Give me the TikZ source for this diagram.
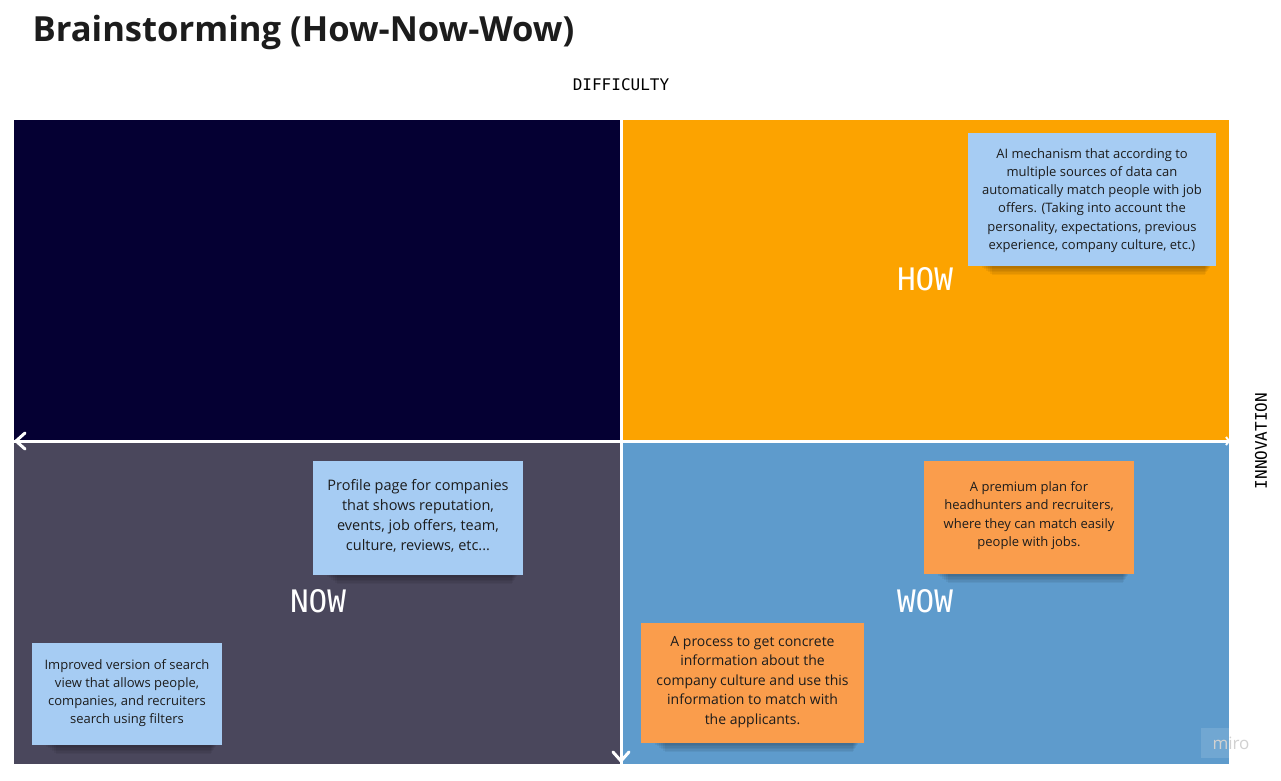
\documentclass[tikz,border=0pt]{standalone}
\usepackage{fontspec}
\setmainfont{Open Sans}
\newfontfamily\monof{DejaVu Sans Mono}
\definecolor{qnavy}{HTML}{050033}
\definecolor{qorange}{HTML}{FCA300}
\definecolor{qgray}{HTML}{4A475C}
\definecolor{qblue}{HTML}{5E9BCC}
\definecolor{noteblue}{HTML}{A6CCF3}
\definecolor{noteorange}{HTML}{FA9D4C}
\definecolor{txt}{HTML}{1C1C1C}
\tikzset{
  x=1pt,y=-1pt,
  note/.style={text=txt,font=\fontsize{13}{18.2}\selectfont,align=center,inner sep=0pt},
  qlabel/.style={text=white,font=\monof\fontsize{31}{31}\selectfont},
  axislabel/.style={text=black,font=\monof\fontsize{16}{16}\selectfont},
  axis/.style={white,line width=3pt},
  chevron/.style={white,line width=3pt,line cap=round,line join=miter},
}
\newcommand{\sticky}[6]{% x1 y1 x2 y2 color name
  \foreach \k in {0,...,5}{
    \fill[black,opacity=0.05] (#1+14+\k*2,#4-6) rectangle (#3-6-\k,#4+2+\k*1.4);
  }
  \fill[#5] (#1,#2) rectangle (#3,#4);
  \coordinate (#6) at ({(#1+#3)/2},{(#2+#4)/2});
}
\begin{document}
\begin{tikzpicture}
\useasboundingbox[fill=white] (0,0) rectangle (1281,780);
\node[anchor=west,font=\bfseries\fontsize{34.6}{34.6}\selectfont,text=txt] (title) at (29,33) {Brainstorming (How-Now-Wow)};
\node[axislabel] (diff) at (621,85) {DIFFICULTY};
\node[axislabel,rotate=90] (innov) at (1261,441) {INNOVATION};
% quadrants
\fill[qnavy] (14,120) rectangle (620,440);
\fill[qorange] (623,120) rectangle (1229,440);
\fill[qgray] (14,443) rectangle (620,764);
\fill[qblue] (623,443) rectangle (1229,764);
\coordinate (hl) at (16,441);
\coordinate (hr) at (1229,441);
\coordinate (vt) at (621,120);
\coordinate (vb) at (621,761);
\draw[axis] (hr) -- (hl);
\draw[axis] (vt) -- (vb);
\draw[chevron] ([shift={(9,-8)}]hl) -- (hl) -- ([shift={(9,8)}]hl);
\draw[chevron] ([shift={(-8,-9)}]vb) -- (vb) -- ([shift={(8,-9)}]vb);
\draw[white,line width=2pt] ([shift={(-3,-4)}]hr) -- (hr) -- ([shift={(-3,4)}]hr);
\node[qlabel] (how) at (925,279) {HOW};
\node[qlabel] (now) at (318,601) {NOW};
\node[qlabel] (wow) at (925,601) {WOW};
% notes
\sticky{968}{133}{1216}{266}{noteblue}{n1}
\node[note] (t1) at ([yshift=-1pt]n1) {AI mechanism that according to\\multiple sources of data can\\automatically match people with job\\offers. (Taking into account the\\personality, expectations, previous\\experience, company culture, etc.)};
\sticky{313}{461}{523}{575}{noteblue}{n2}
\node[note,font=\fontsize{14.5}{20.2}\selectfont] (t2) at ([yshift=2pt]n2) {Profile page for companies\\that shows reputation,\\events, job offers, team,\\culture, reviews, etc...};
\sticky{32}{643}{222}{745}{noteblue}{n3}
\node[note] (t3) at ([yshift=1pt]n3) {Improved version of search\\view that allows people,\\companies, and recruiters\\search using filters};
\sticky{924}{461}{1134}{574}{noteorange}{n4}
\node[note] (t4) at ([yshift=2pt]n4) {A premium plan for\\headhunters and recruiters,\\where they can match easily\\people with jobs.};
\sticky{641}{623}{864}{743}{noteorange}{n5}
\node[note,font=\fontsize{14}{19.5}\selectfont] (t5) at ([yshift=1pt]n5) {A process to get concrete\\information about the\\company culture and use this\\information to match with\\the applicants.};
% miro watermark
\fill[white,opacity=0.12] (1201,728) rectangle (1229,758);
\node[text=black!18,font=\fontsize{17}{17}\selectfont] (miro) at (1231,743) {miro};
\end{tikzpicture}
\end{document}
